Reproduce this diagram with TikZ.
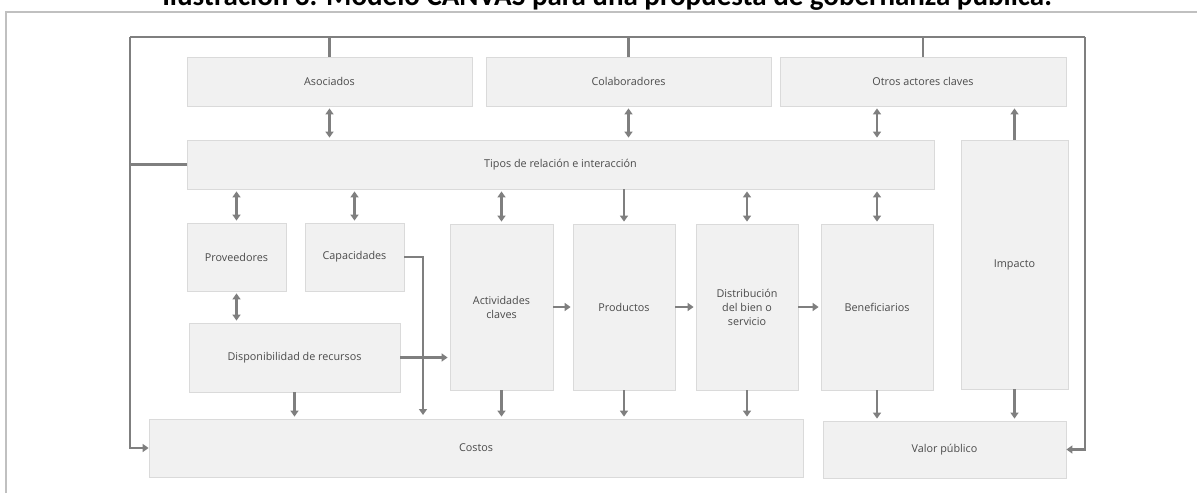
\documentclass[tikz,border=0pt]{standalone}
\usepackage{fontspec}
\setmainfont{Carlito}
\newfontfamily\cajafont{Open Sans}
\usetikzlibrary{arrows.meta}
\definecolor{relleno}{HTML}{F1F1F1}
\definecolor{borde}{HTML}{DADADA}
\definecolor{gris}{HTML}{7F7F7F}
\definecolor{texto}{HTML}{4A4A4A}
\definecolor{marco}{HTML}{C0C0C0}
\begin{document}
\begin{tikzpicture}
		[x=1pt,y=-1pt,
		caja/.style={rectangle,draw=borde,fill=relleno,line width=0.8pt,inner sep=2pt,align=center,text=texto,font=\cajafont\fontsize{10.8}{14}\selectfont},
		linea/.style={draw=gris,line width=2.5pt},
		flecha/.style={linea,-{Triangle[width=8pt,length=6pt]},shorten >=2pt},
		doble/.style={linea,{Triangle[width=8pt,length=6pt]}-{Triangle[width=8pt,length=6pt]},shorten >=2pt,shorten <=2pt},]
		\useasboundingbox (0,0) rectangle (1197,493);
		\draw[marco,line width=2pt] (6,493) -- (6,12) -- (1197,12);
		\node[anchor=base,font=\fontsize{29}{34}\selectfont\bfseries,name=titulo] at (607,5) {Ilustración 3. Modelo CANVAS para una propuesta de gobernanza pública.};
		\node[caja,minimum width=285pt,minimum height=49pt,name=asoc] at (329.5,81.5) {Asociados};
		\node[caja,minimum width=285pt,minimum height=49pt,name=colab] at (628.5,81.5) {Colaboradores};
		\node[caja,minimum width=286pt,minimum height=49pt,name=otros] at (923,81.5) {Otros actores claves};
		\node[caja,minimum width=747pt,minimum height=49pt,name=tipos] at (560.5,164.5) {Tipos de relación e interacción};
		\node[caja,minimum width=107pt,minimum height=249pt,name=impacto] at (1014.5,264.5) {Impacto};
		\node[caja,minimum width=99pt,minimum height=68pt,name=prov] at (236.5,257) {Proveedores};
		\node[caja,minimum width=99pt,minimum height=68pt,name=capac] at (354.5,257) {Capacidades};
		\node[caja,minimum width=211pt,minimum height=69pt,name=dispo] at (294.5,357.5) {Disponibilidad de recursos};
		\node[caja,minimum width=103pt,minimum height=166pt,name=activ] at (501.5,307) {Actividades\\claves};
		\node[caja,minimum width=102pt,minimum height=166pt,name=produc] at (624,307) {Productos};
		\node[caja,minimum width=102pt,minimum height=166pt,name=distrib] at (747,307) {Distribución\\del bien o\\servicio};
		\node[caja,minimum width=112pt,minimum height=166pt,name=benef] at (877,307) {Beneficiarios};
		\node[caja,minimum width=654pt,minimum height=58pt,name=costos] at (476,448) {Costos};
		\node[caja,minimum width=243pt,minimum height=57pt,name=valor] at (944.5,449.5) {Valor público};
		\coordinate (izq) at (130,37);
		\coordinate (der) at (1085,37);
		\coordinate (bajada) at (423,415);
		\draw[linea] (izq) -- (der);
		\draw[flecha,shorten >=0pt] (izq) |- (costos.west);
		\draw[flecha,shorten >=0pt] (der) |- (valor.east);
		\draw[linea] (tipos.west) -- (tipos.west -| izq);
		\foreach \n in {asoc,colab,otros}
		{
			\draw[linea] (\n.north) -- (\n.north |- izq);
		}
		\foreach \n in {asoc,colab}
		{
			\draw[doble] (\n.south) -- (\n.south |- tipos.north);
		}
		\draw[doble] (otros.south -| benef.north) -- (tipos.north -| benef.north);
		\draw[flecha] (impacto.north) -- (impacto.north |- otros.south);
		\foreach \n in {prov,capac,activ,distrib,benef}
		{
			\draw[doble] (tipos.south -| \n.north) -- (\n.north);
		}
		\draw[flecha] (tipos.south -| produc.north) -- (produc.north);
		\draw[doble] (prov.south) -- (prov.south |- dispo.north);
		\draw[flecha,shorten >=0pt] (capac.east) -| (bajada);
		\draw[flecha] (dispo.east) -- (dispo.east -| activ.west);
		\draw[flecha] (activ) -- (produc);
		\draw[flecha] (produc) -- (distrib);
		\draw[flecha] (distrib) -- (benef);
		\foreach \n in {dispo,activ,produc,distrib}
		{
			\draw[flecha] (\n.south) -- (\n.south |- costos.north);
		}
		\foreach \n in {benef,impacto}
		{
			\draw[flecha] (\n.south) -- (\n.south |- valor.north);
		}
	\end{tikzpicture}
\end{document}
